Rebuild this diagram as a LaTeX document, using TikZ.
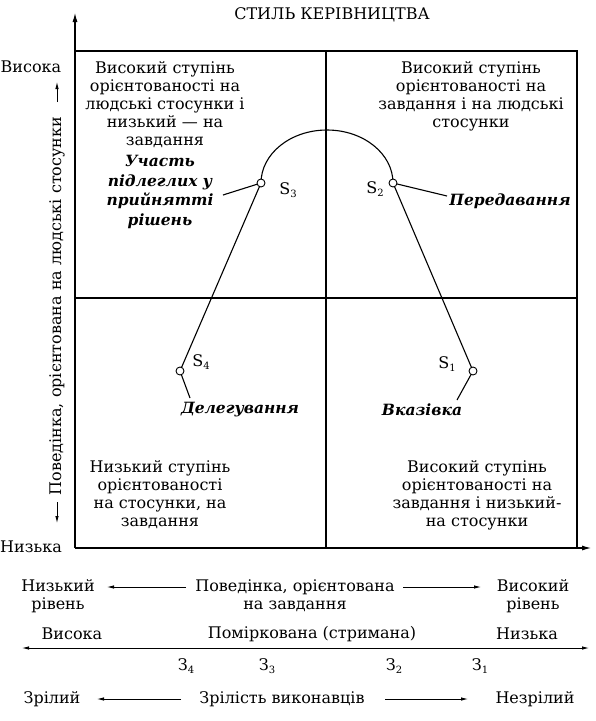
\documentclass[tikz,border=0pt]{standalone}
\usepackage{fontspec}
\setmainfont{DejaVu Serif}
\usetikzlibrary{arrows.meta}
\newcommand{\mysub}[1]{\raisebox{-0.4ex}{\fontsize{10}{10}\selectfont #1}}
\begin{document}
\begin{tikzpicture}[x=1pt,y=-1pt,
  txt/.style={inner sep=0pt, align=center, font=\fontsize{16}{18}\selectfont},
  lbl/.style={inner sep=0pt, align=center, font=\fontsize{15.5}{19.5}\selectfont\bfseries\itshape},
  axis/.style={line width=1.6pt},
  curve/.style={line width=1.1pt},
  pt/.style={circle, draw, fill=white, line width=0.9pt, inner sep=0pt, minimum size=8pt},
  tip/.style={-{Latex[length=10pt,width=5pt]}},
  small/.style={-{Latex[length=7pt,width=3.5pt]}, line width=0.8pt},
  smalltwo/.style={{Latex[length=7pt,width=3.5pt]}-{Latex[length=7pt,width=3.5pt]}, line width=0.8pt}
]
\useasboundingbox (0,0) rectangle (596,721);

% title
\node[txt] (title) at (332,15) {СТИЛЬ КЕРІВНИЦТВА};

% frame and axes
\coordinate (O) at (75,548);
\coordinate (Ytop) at (75,12);
\coordinate (Xend) at (592,548);
\coordinate (TL) at (75,51);
\coordinate (TR) at (577,51);
\coordinate (BR) at (577,548);
\coordinate (Mt) at (326,51);
\coordinate (Mb) at (326,548);
\coordinate (Ml) at (75,298);
\coordinate (Mr) at (577,298);
\draw[axis, tip] (O) -- (Ytop);
\draw[axis, tip] (O) -- (Xend);
\draw[axis] (TL) -- (TR) -- (BR);
\draw[axis] (Mt) -- (Mb);
\draw[axis] (Ml) -- (Mr);

% left axis labels
\node[txt] (hi) at (31,67) {Висока};
\node[txt] (lo) at (31,547) {Низька};
\node[txt, rotate=90] (yl) at (57,306) {Поведінка, орієнтована на людські стосунки};
\coordinate (ua) at (57,102);
\coordinate (ub) at (57,82);
\coordinate (da) at (57,502);
\coordinate (db) at (57,523);
\draw[small] (ua) -- (ub);
\draw[small] (da) -- (db);

% quadrant texts
\node[txt] (q1) at (165,104.5) {Високий ступінь\\орієнтованості на\\людські стосунки і\\низький — на\\завдання};
\node[txt] (q2) at (471,96) {Високий ступінь\\орієнтованості на\\завдання і на людські\\стосунки};
\node[txt] (q3) at (160,495) {Низький ступінь\\орієнтованості\\на стосунки, на\\завдання};
\node[txt] (q4) at (477,495) {Високий ступінь\\орієнтованості на\\завдання і низький-\\на стосунки};

% curve
\coordinate (S4) at (180,371);
\coordinate (S3) at (261,183);
\coordinate (S2) at (393,183);
\coordinate (S1) at (473,371);
\coordinate (E4) at (190,398);
\coordinate (E1) at (457,400);
\coordinate (L3) at (223,195);
\coordinate (L2) at (447,196);
\draw[curve] (E4) -- (S4) -- (S3) arc[start angle=180, end angle=360, x radius=66, y radius=53] -- (S1) -- (E1);
\draw[curve] (S3) -- (L3);
\draw[curve] (S2) -- (L2);
\node[pt] (p4) at (S4) {};
\node[pt] (p3) at (S3) {};
\node[pt] (p2) at (S2) {};
\node[pt] (p1) at (S1) {};
\node[txt] (s3) at (288,190) {S\mysub{3}};
\node[txt] (s2) at (375,189) {S\mysub{2}};
\node[txt] (s4) at (201,362) {S\mysub{4}};
\node[txt] (s1) at (447,364) {S\mysub{1}};

% style labels
\node[lbl] (part) at (160,192) {Участь\\підлеглих у\\прийнятті\\рішень};
\node[lbl] (deleg) at (510,201) {Передавання};
\node[lbl] (dlg) at (240,410) {Делегування};
\node[lbl] (vkz) at (422,410) {Вказівка};

% bottom scales
\node[txt] (lowlvl) at (58,596) {Низький\\рівень};
\node[txt] (tbeh) at (295,596) {Поведінка, орієнтована\\на завдання};
\node[txt] (hilvl) at (533,596) {Високий\\рівень};
\coordinate (a1s) at (186,587);
\coordinate (a1e) at (107,587);
\coordinate (a2s) at (403,587);
\coordinate (a2e) at (481,587);
\draw[small] (a1s) -- (a1e);
\draw[small] (a2s) -- (a2e);

\node[txt] (vys) at (72,634) {Висока};
\node[txt] (pom) at (312,634) {Поміркована (стримана)};
\node[txt] (niz) at (527,634) {Низька};
\coordinate (rl) at (22,648);
\coordinate (rr) at (589,648);
\draw[smalltwo] (rl) -- (rr);

\node[txt] (z4) at (186,666) {З\mysub{4}};
\node[txt] (z3) at (267,666) {З\mysub{3}};
\node[txt] (z2) at (394,666) {З\mysub{2}};
\node[txt] (z1) at (480,666) {З\mysub{1}};

\node[txt] (mat) at (52,699) {Зрілий};
\node[txt] (zr) at (282,699) {Зрілість виконавців};
\node[txt] (nez) at (535,699) {Незрілий};
\coordinate (b1s) at (181,699);
\coordinate (b1e) at (97,699);
\coordinate (b2s) at (385,699);
\coordinate (b2e) at (468,699);
\draw[small] (b1s) -- (b1e);
\draw[small] (b2s) -- (b2e);
\end{tikzpicture}
\end{document}
